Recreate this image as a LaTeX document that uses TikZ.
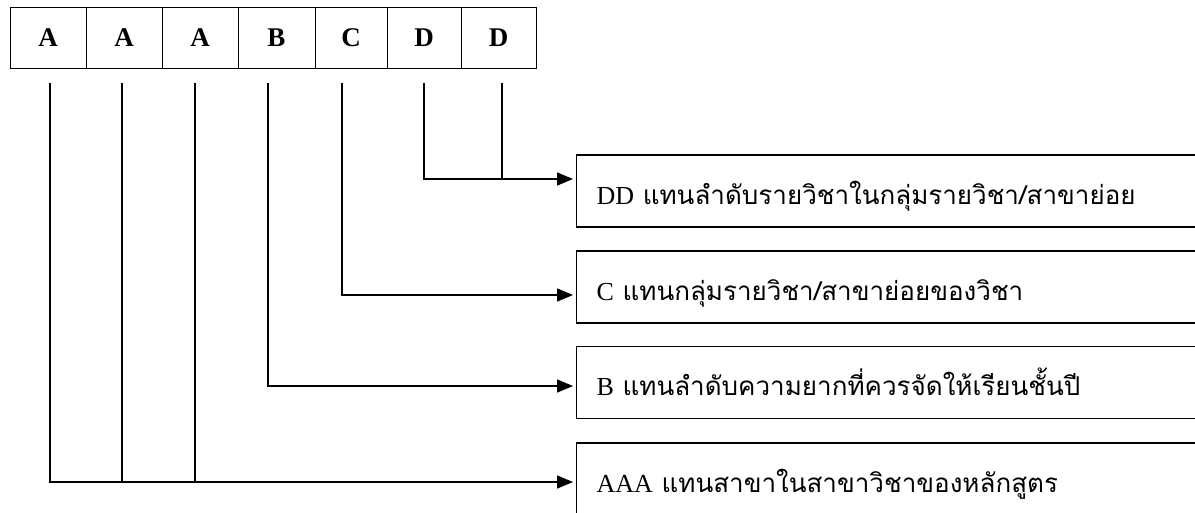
\documentclass[tikz,border=0pt]{standalone}
\usepackage{fontspec}
\setmainfont{Liberation Serif}
\newfontfamily\thaifont[Script=Thai]{Loma}
\usetikzlibrary{arrows.meta}

\begin{document}
\begin{tikzpicture}[x=1pt,y=-1pt,
    code/.style={draw, line width=1pt, minimum height=61pt, inner sep=0pt,
      font=\fontsize{27}{30}\selectfont\bfseries},
    meaning/.style={draw, line width=1.2pt, anchor=west, minimum height=72pt,
      text width=620pt, inner xsep=20pt, text height=26pt, text depth=0pt,
      align=left, font=\fontsize{26}{30}\selectfont},
    link/.style={line width=1.5pt},
    arr/.style={link, shorten >=3pt, -{Triangle[length=16pt,width=13pt]}}]
  \useasboundingbox (0,0) rectangle (1195,512);
  \clip (0,0) rectangle (1195,512);

  % code boxes
  \node [code, minimum width=76pt] (a1) at (48,37.5) {A};
  \node [code, minimum width=76pt] (a2) at (124,37.5) {A};
  \node [code, minimum width=76pt] (a3) at (200,37.5) {A};
  \node [code, minimum width=77pt] (b) at (276.5,37.5) {B};
  \node [code, minimum width=72pt] (c) at (351,37.5) {C};
  \node [code, minimum width=74pt] (d1) at (424,37.5) {D};
  \node [code, minimum width=75pt] (d2) at (498.5,37.5) {D};

  % meaning boxes
  \node [meaning] (dd) at (576,191) {DD {\thaifont แทนลำดับรายวิชาในกลุ่มรายวิชา/สาขาย่อย}};
  \node [meaning] (cc) at (576,287) {C {\thaifont แทนกลุ่มรายวิชา/สาขาย่อยของวิชา}};
  \node [meaning] (bb) at (576,382.5) {B {\thaifont แทนลำดับความยากที่ควรจัดให้เรียนชั้นปี}};
  \node [meaning] (aaa) at (576,479) {AAA {\thaifont แทนสาขาในสาขาวิชาของหลักสูตร}};

  % line ends
  \coordinate (a1top) at (50,83);
  \coordinate (a2top) at (122,83);
  \coordinate (a3top) at (195,83);
  \coordinate (btop) at (268,83);
  \coordinate (ctop) at (342,83);
  \coordinate (d1top) at (424,83);
  \coordinate (d2top) at (502,83);
  \coordinate (ddrow) at (0,179);
  \coordinate (crow) at (0,295);
  \coordinate (brow) at (0,386);
  \coordinate (aaarow) at (0,482);

  % connectors
  \draw [link] (d1top) |- (d2top |- ddrow);
  \draw [arr] (d2top) |- (dd.west |- ddrow);
  \draw [arr] (ctop) |- (cc.west |- crow);
  \draw [arr] (btop) |- (bb.west |- brow);
  \draw [link] (a2top) -- (a2top |- aaarow);
  \draw [link] (a3top) -- (a3top |- aaarow);
  \draw [arr] (a1top) |- (aaa.west |- aaarow);
\end{tikzpicture}
\end{document}
